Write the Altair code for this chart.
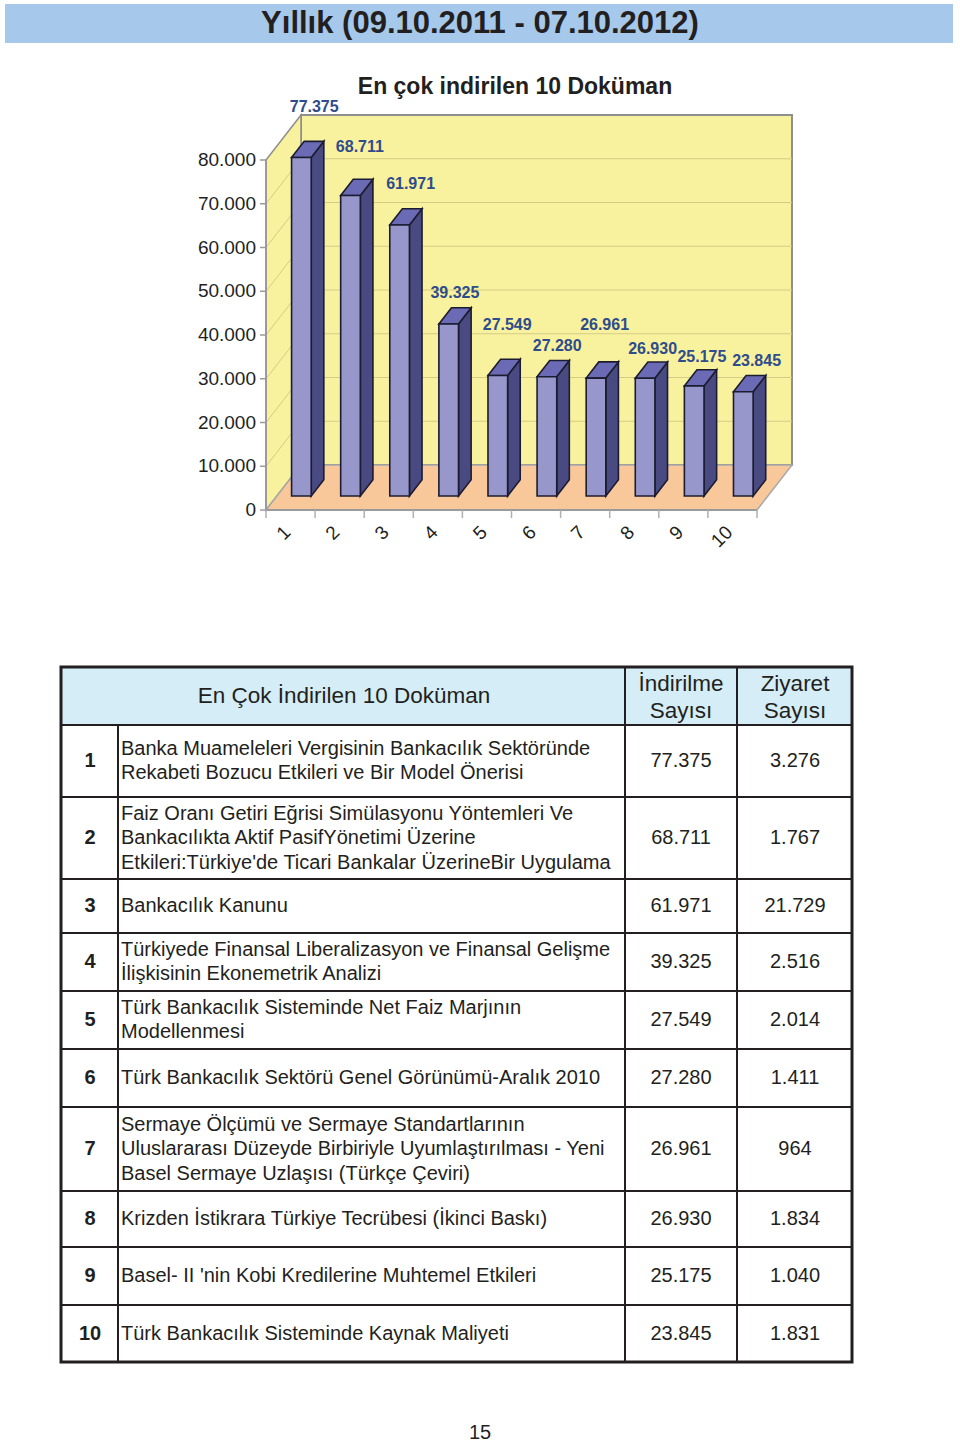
import altair as alt
import pandas as pd

# ---------------- data ----------------
CATEGORIES = ["1", "2", "3", "4", "5", "6", "7", "8", "9", "10"]
DOWNLOADS = [77375, 68711, 61971, 39325, 27549, 27280, 26961, 26930, 25175, 23845]
VISITS = [3276, 1767, 21729, 2516, 2014, 1411, 964, 1834, 1040, 1831]
DOC_TITLES = [
    "Banka Muameleleri Vergisinin Bankacılık Sektöründe\nRekabeti Bozucu Etkileri ve Bir Model Önerisi",
    "Faiz Oranı Getiri Eğrisi Simülasyonu Yöntemleri Ve\nBankacılıkta Aktif PasifYönetimi Üzerine\nEtkileri:Türkiye'de Ticari Bankalar ÜzerineBir Uygulama",
    "Bankacılık Kanunu",
    "Türkiyede Finansal Liberalizasyon ve Finansal Gelişme\nİlişkisinin Ekonemetrik Analizi",
    "Türk Bankacılık Sisteminde Net Faiz Marjının\nModellenmesi",
    "Türk Bankacılık Sektörü Genel Görünümü-Aralık 2010",
    "Sermaye Ölçümü ve Sermaye Standartlarının\nUluslararası Düzeyde Birbiriyle Uyumlaştırılması - Yeni\nBasel Sermaye Uzlaşısı (Türkçe Çeviri)",
    "Krizden İstikrara Türkiye Tecrübesi (İkinci Baskı)",
    "Basel- II 'nin Kobi Kredilerine Muhtemel Etkileri",
    "Türk Bankacılık Sisteminde Kaynak Maliyeti",
]
AXIS_TICKS = [0, 10000, 20000, 30000, 40000, 50000, 60000, 70000, 80000]
PAGE_TITLE = "Yıllık (09.10.2011 - 07.10.2012)"
CHART_TITLE = "En çok indirilen 10 Doküman"
HEADER_TITLE = "En Çok İndirilen 10 Doküman"
HEADER_DL = "İndirilme\nSayısı"
HEADER_VIS = "Ziyaret\nSayısı"
PAGE_NO = "15"

# ---------------- layout (pixels / styles) ----------------
W, H = 960, 1444
FONT = "Liberation Sans"
INK = "#231f20"
X_FRONT = (266, 757)          # floor front edge
Y_FRONT = (510, 160)          # 0 and 80.000 on the front axis
DEPTH_PX = (35, 45)           # wall depth vector
BAR_HALF = 0.2                # half bar width in category units
BAR_DEPTH = (0.31, 0.67)      # bar depth span (fraction of wall depth)
LABEL_DX_PX = [12.8, 9.4, 11.0, 6.2, 9.4, 10.3, 8.6, 7.5, 7.7, 13.3]
LABEL_DY_PX = [50.8, 48.7, 40.6, 30.7, 50.5, 30.6, 53.0, 29.2, 29.2, 31.0]
ROW_EDGES = [725, 797, 879, 933, 991, 1049, 1107, 1191, 1247, 1305, 1362]
TABLE_BOX = (61, 667, 852, 1362)
COL_LINES = [118, 625, 737]
BODY_LH = 24.5
HEAD_LH = 27

def fmt(n):
    return f"{n:,}".replace(",", ".")

def first_line_y(center, text, lh):
    return center - (text.count("\n")) * lh / 2

n_cat = len(CATEGORIES)
px_cat = (X_FRONT[1] - X_FRONT[0]) / n_cat
px_val = (Y_FRONT[0] - Y_FRONT[1]) / 80000
DX = DEPTH_PX[0] / px_cat
DY = DEPTH_PX[1] / px_val
VMAX = AXIS_TICKS[-1]

XS = alt.Scale(domain=[0, n_cat], range=list(X_FRONT), nice=False, zero=False)
YS = alt.Scale(domain=[0, VMAX], range=list(Y_FRONT), nice=False, zero=False)

def X(f):
    return alt.X(f + ":Q", scale=XS, axis=None)

def Y(f):
    return alt.Y(f + ":Q", scale=YS, axis=None, stack=False)

# ---------- walls & floor ----------
back = alt.Chart(pd.DataFrame({"x": [DX], "x2": [n_cat + DX], "y": [DY], "y2": [VMAX + DY]})).mark_rect(
    fill="#f8f29e", stroke="#8f8f8f", strokeWidth=2).encode(x=X("x"), x2="x2:Q", y=Y("y"), y2="y2:Q")

left = alt.Chart(pd.DataFrame({"x": [0, DX], "y": [0, DY], "y2": [VMAX, VMAX + DY]})).mark_area(
    orient="vertical", fill="#f8f29e", stroke="#8f8f8f", strokeWidth=1.5).encode(x=X("x"), y=Y("y"), y2="y2:Q")

floor = alt.Chart(pd.DataFrame({"y": [0, DY], "x": [0, DX], "x2": [n_cat, n_cat + DX]})).mark_area(
    orient="horizontal", fill="#f9c89a", stroke="#a8a8a8", strokeWidth=1.5).encode(
    y=Y("y"), x=X("x"), x2="x2:Q")

grid_vals = AXIS_TICKS[1:-1]
grid_back = alt.Chart(pd.DataFrame({"x": DX, "x2": n_cat + DX, "y": [v + DY for v in grid_vals]})).mark_rule(
    color="#d4cb86", strokeWidth=1).encode(x=X("x"), x2="x2:Q", y=Y("y"))
grid_left = alt.Chart(pd.DataFrame({"x": 0.0, "x2": DX, "y": grid_vals, "y2": [v + DY for v in grid_vals]})).mark_rule(
    color="#d4cb86", strokeWidth=1).encode(x=X("x"), x2="x2:Q", y=Y("y"), y2="y2:Q")

edges = alt.Chart(pd.DataFrame({
    "x": [0, 0], "x2": [0, n_cat], "y": [0, 0], "y2": [VMAX, 0]})).mark_rule(
    color="#9a9a9a", strokeWidth=2).encode(x=X("x"), x2="x2:Q", y=Y("y"), y2="y2:Q")

yticks = alt.Chart(pd.DataFrame({"x": 0.0, "x2": -6 / px_cat, "y": AXIS_TICKS})).mark_rule(
    color="#9a9a9a", strokeWidth=1.5).encode(x=X("x"), x2="x2:Q", y=Y("y"))
xticks = alt.Chart(pd.DataFrame({"x": list(range(n_cat + 1)), "y": 0.0, "y2": -8 / px_val})).mark_rule(
    color="#b0b0b0", strokeWidth=1.5).encode(x=X("x"), y=Y("y"), y2="y2:Q")

ylabels = alt.Chart(pd.DataFrame({"x": 0.0, "y": AXIS_TICKS, "t": [fmt(v) for v in AXIS_TICKS]})).mark_text(
    align="right", baseline="middle", dx=-10, font=FONT, fontSize=19, color=INK).encode(
    x=X("x"), y=Y("y"), text="t:N")
# dx/dy are applied in the rotated (315 deg) text frame
xlabels = alt.Chart(pd.DataFrame({"x": [i + 0.5 for i in range(n_cat)], "y": 0.0, "t": CATEGORIES})).mark_text(
    align="right", baseline="middle", angle=315, dx=-15.8, dy=11.5, font=FONT, fontSize=19, color=INK).encode(
    x=X("x"), y=Y("y"), text="t:N")

# ---------- bars ----------
df0, df1 = BAR_DEPTH
front_rows, side_rows, top_rows, lab_rows = [], [], [], []
for i, (c, v) in enumerate(zip(CATEGORIES, DOWNLOADS)):
    xl, xr = i + 0.5 - BAR_HALF, i + 0.5 + BAR_HALF
    fx0, fx1 = DX * df0, DX * df1
    fy0, fy1 = DY * df0, DY * df1
    front_rows.append({"bar": c, "x": xl + fx0, "x2": xr + fx0, "y": fy0, "y2": v + fy0})
    side_rows += [{"bar": c, "x": xr + fx0, "y": fy0, "y2": v + fy0},
                  {"bar": c, "x": xr + fx1, "y": fy1, "y2": v + fy1}]
    tf, tb = v + fy0, v + fy1
    top_rows += [{"bar": c, "x": xl + fx0, "y": tf, "y2": tf},
                 {"bar": c, "x": xl + fx1, "y": tf, "y2": tb},
                 {"bar": c, "x": xr + fx0, "y": tf, "y2": tb},
                 {"bar": c, "x": xr + fx1, "y": tb, "y2": tb}]
    lab_rows.append({"x": i + 0.5 + fx0 + LABEL_DX_PX[i] / px_cat,
                     "y": v + fy0 + LABEL_DY_PX[i] / px_val, "t": fmt(v)})

EDGE = "#1c1c30"
bar_front = alt.Chart(pd.DataFrame(front_rows)).mark_rect(
    fill="#9797cc", stroke=EDGE, strokeWidth=1.6).encode(x=X("x"), x2="x2:Q", y=Y("y"), y2="y2:Q")
bar_side = alt.Chart(pd.DataFrame(side_rows)).mark_area(
    orient="vertical", fill="#4a4a83", stroke=EDGE, strokeWidth=1.6).encode(
    x=X("x"), y=Y("y"), y2="y2:Q", detail="bar:N")
bar_top = alt.Chart(pd.DataFrame(top_rows)).mark_area(
    orient="vertical", fill="#6b6bb5", stroke=EDGE, strokeWidth=1.6).encode(
    x=X("x"), y=Y("y"), y2="y2:Q", detail="bar:N")
val_labels = alt.Chart(pd.DataFrame(lab_rows)).mark_text(
    align="center", baseline="middle", font=FONT, fontSize=16, fontWeight="bold", color="#2f4c8c").encode(
    x=X("x"), y=Y("y"), text="t:N")

chart3d = alt.layer(back, left, floor, grid_back, grid_left, edges, yticks, xticks,
                    ylabels, xlabels, bar_side, bar_top, bar_front, val_labels)

# ---------- page decorations & table (pixel layout) ----------
PX = alt.Scale(domain=[0, W], range=[0, W], nice=False, zero=False)
PY = alt.Scale(domain=[0, H], range=[0, H], nice=False, zero=False)

def PXe(f):
    return alt.X(f + ":Q", scale=PX, axis=None)

def PYe(f):
    return alt.Y(f + ":Q", scale=PY, axis=None, stack=False)

one = pd.DataFrame({"k": [0]})
title_bar = alt.Chart(one).mark_rect(fill="#a5c8eb").encode(
    x=alt.value(5), x2=alt.value(953), y=alt.value(4), y2=alt.value(43))
title_txt = alt.Chart(pd.DataFrame({"t": [PAGE_TITLE]})).mark_text(
    font=FONT, fontSize=31, fontWeight="bold", color=INK, baseline="middle").encode(
    x=alt.value(480), y=alt.value(24), text="t:N")
sub_txt = alt.Chart(pd.DataFrame({"t": [CHART_TITLE]})).mark_text(
    font=FONT, fontSize=23, fontWeight="bold", color=INK, baseline="middle").encode(
    x=alt.value(515), y=alt.value(87), text="t:N")

tx0, ty0, tx1, ty1 = TABLE_BOX
header_bg = alt.Chart(one).mark_rect(fill="#d5edf6").encode(
    x=alt.value(tx0), x2=alt.value(tx1), y=alt.value(ty0), y2=alt.value(ROW_EDGES[0]))
hdr_texts = [HEADER_TITLE, HEADER_DL, HEADER_VIS]
hdr_centers = [696, 697.5, 697.5]
hdr = pd.DataFrame({"x": [344, 681, 795],
                    "y": [first_line_y(c, t, HEAD_LH) for c, t in zip(hdr_centers, hdr_texts)],
                    "t": hdr_texts})
header_txt = alt.Chart(hdr).mark_text(
    font=FONT, fontSize=22.5, color=INK, baseline="middle", lineBreak="\n", lineHeight=HEAD_LH).encode(
    x=PXe("x"), y=PYe("y"), text="t:N")

hl = pd.DataFrame({"y": ROW_EDGES[:-1], "x": tx0, "x2": tx1})
hlines = alt.Chart(hl).mark_rule(color=INK, strokeWidth=2).encode(x=PXe("x"), x2="x2:Q", y=PYe("y"))
vl = pd.DataFrame({"x": COL_LINES, "y": [ROW_EDGES[0], ty0, ty0], "y2": ty1})
vlines = alt.Chart(vl).mark_rule(color=INK, strokeWidth=2).encode(x=PXe("x"), y=PYe("y"), y2="y2:Q")
border = alt.Chart(one).mark_rect(fillOpacity=0, stroke=INK, strokeWidth=3).encode(
    x=alt.value(tx0), x2=alt.value(tx1), y=alt.value(ty0), y2=alt.value(ty1))

centers = [(a + b) / 2 for a, b in zip(ROW_EDGES[:-1], ROW_EDGES[1:])]
rows = pd.DataFrame({
    "num": CATEGORIES,
    "title": DOC_TITLES,
    "dl": [fmt(v) for v in DOWNLOADS],
    "vis": [fmt(v) for v in VISITS],
    "yc": centers,
    "yt": [first_line_y(c, t, BODY_LH) for c, t in zip(centers, DOC_TITLES)],
})
num_txt = alt.Chart(rows).mark_text(font=FONT, fontSize=20, fontWeight="bold", color=INK,
                                    baseline="middle").encode(x=alt.value(90), y=PYe("yc"), text="num:N")
title_col = alt.Chart(rows).mark_text(font=FONT, fontSize=20, color=INK, align="left", baseline="middle",
                                      lineBreak="\n", lineHeight=BODY_LH).encode(
    x=alt.value(121), y=PYe("yt"), text="title:N")
dl_txt = alt.Chart(rows).mark_text(font=FONT, fontSize=20, color=INK, baseline="middle").encode(
    x=alt.value(681), y=PYe("yc"), text="dl:N")
vis_txt = alt.Chart(rows).mark_text(font=FONT, fontSize=20, color=INK, baseline="middle").encode(
    x=alt.value(795), y=PYe("yc"), text="vis:N")
page_txt = alt.Chart(pd.DataFrame({"t": [PAGE_NO]})).mark_text(
    font=FONT, fontSize=20, color=INK, baseline="middle").encode(x=alt.value(480), y=alt.value(1433), text="t:N")

page = alt.layer(title_bar, title_txt, sub_txt, header_bg, header_txt, hlines, vlines, border,
                 num_txt, title_col, dl_txt, vis_txt, page_txt)

chart = alt.layer(chart3d, page).resolve_scale(x="independent", y="independent").properties(
    width=W, height=H, padding=0, autosize=alt.AutoSizeParams(type="none"), background="white"
).configure_view(strokeOpacity=0)

chart.save("out.html", embed_options={"renderer": "svg", "actions": False})
